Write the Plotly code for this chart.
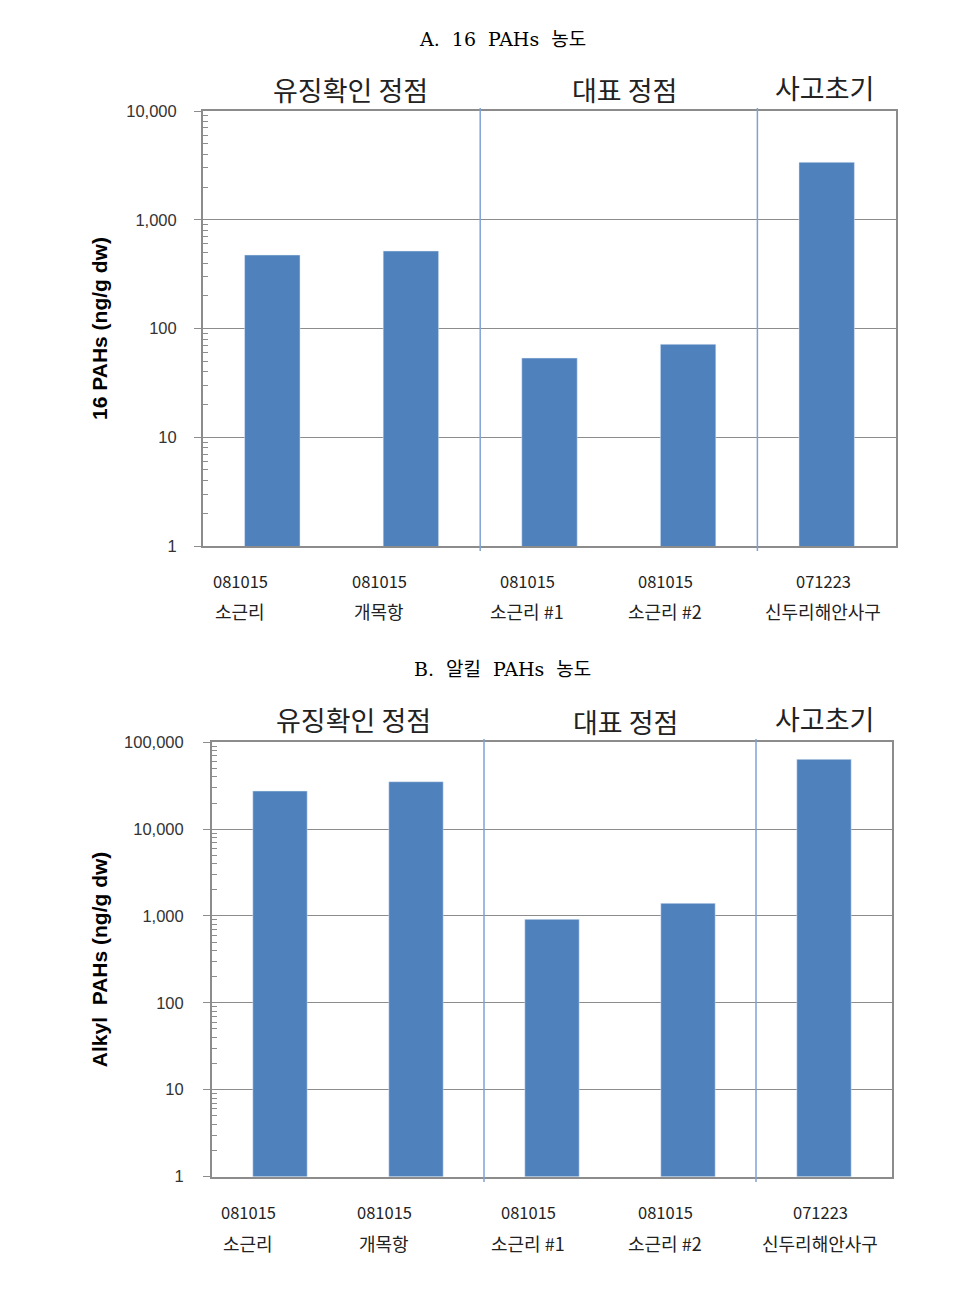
import plotly.graph_objects as go

# ---- data ----
dates = ["081015", "081015", "081015", "081015", "071223"]
sites = ["소근리", "개목항", "소근리 #1", "소근리 #2", "신두리해안사구"]
groups = ["유징확인 정점", "대표 정점", "사고초기"]
pah16 = [474, 516, 53.5, 71.6, 3376]
alkyl = [27470, 35150, 915, 1399, 63660]
titles = ["A.  16  PAHs  농도", "B.  알킬  PAHs  농도"]
ytitles = ["16 PAHs (ng/g dw)", "Alkyl  PAHs (ng/g dw)"]

W, H = 972, 1298
def px(x):
    return x / W
def py(y):
    return 1 - y / H

BAR = "#4f81bd"
GRID = "#8c8c8c"
SEP = "#7fa3d3"
TXT = "#333333"
KFONT = "Noto Sans CJK KR"

fig = go.Figure()
fig.add_trace(go.Bar(x=sites, y=pah16, marker_color=BAR, width=0.4,
                     xaxis="x", yaxis="y", showlegend=False))
fig.add_trace(go.Bar(x=sites, y=alkyl, marker_color=BAR, width=0.4,
                     xaxis="x2", yaxis="y2", showlegend=False))

def minor_vals(ndec):
    v = []
    for d in range(ndec):
        for m in range(2, 10):
            v.append(m * 10 ** d)
    return v

def yaxis_cfg(ndec, dom, title, standoff, anchor, tstand):
    return dict(
        type="log", range=[0, ndec], domain=dom, anchor=anchor, automargin=False,
        tickvals=[10 ** i for i in range(ndec + 1)],
        ticktext=[f"{10 ** i:,}" for i in range(ndec + 1)],
        ticks="outside", ticklen=7, tickcolor=GRID, tickwidth=1,
        minor=dict(tickvals=minor_vals(ndec), ticks="inside", ticklen=5,
                   tickcolor=GRID, tickwidth=1, showgrid=False),
        showgrid=True, gridcolor=GRID, gridwidth=1,
        showline=True, linecolor=GRID, linewidth=2, mirror=True,
        tickfont=dict(family="Liberation Sans, Arial", size=16.5, color=TXT),
        ticklabelstandoff=standoff,
        title=dict(text=title, font=dict(family="Liberation Sans, Arial", size=21,
                                         color="#000", weight="bold"), standoff=tstand),
        zeroline=False,
    )

def xaxis_cfg(dom, anchor):
    return dict(domain=dom, anchor=anchor, range=[-0.5, 4.5], type="category",
                automargin=False,
                showticklabels=False, ticks="", showgrid=False,
                showline=True, linecolor=GRID, linewidth=2, mirror=True)

fig.update_layout(
    width=W, height=H, margin=dict(l=0, r=0, t=0, b=0, pad=0), autosize=False,
    paper_bgcolor="white", plot_bgcolor="white",
    xaxis=xaxis_cfg([px(203), px(896)], "y"),
    yaxis=yaxis_cfg(4, [py(546), py(111)], ytitles[0], 14, "x", 13),
    xaxis2=xaxis_cfg([px(212), px(892)], "y2"),
    yaxis2=yaxis_cfg(5, [py(1176.5), py(742.3)], ytitles[1], 16, "x2", 11),
    bargap=0.6,
)

shapes = []
for xr, y0, y1 in [("x", 108, 551), ("x2", 739, 1182)]:
    for b in (1.5, 3.5):
        shapes.append(dict(type="line", xref=xr, yref="paper", x0=b, x1=b,
                           y0=py(y1), y1=py(y0), line=dict(color=SEP, width=1.5)))
fig.update_layout(shapes=shapes)

ann = []
# titles
for t, y in zip(titles, [39, 669]):
    ann.append(dict(text=t, x=px(502), y=py(y), xref="paper", yref="paper",
                    showarrow=False, xanchor="center", yanchor="middle",
                    font=dict(family="DejaVu Serif, " + KFONT, size=19, color="#000")))
# group headers
for xs, ys in [([350, 624, 824], [89, 90, 87]), ([353, 625, 824], [719, 721, 718])]:
    for g, x, y in zip(groups, xs, ys):
        ann.append(dict(text=g, x=px(x), y=py(y), xref="paper", yref="paper",
                        showarrow=False, xanchor="center", yanchor="middle",
                        font=dict(family=KFONT, size=27, color="#222")))
# category labels
for xs, yd, ys in [([240, 379, 527, 665, 823], 581, 611),
                   ([248, 384, 528, 665, 820], 1212, 1243)]:
    for d, s, x in zip(dates, sites, xs):
        ann.append(dict(text=d, x=px(x), y=py(yd), xref="paper", yref="paper",
                        showarrow=False, xanchor="center", yanchor="middle",
                        font=dict(family=KFONT, size=16.5, color="#222")))
        ann.append(dict(text=s, x=px(x), y=py(ys), xref="paper", yref="paper",
                        showarrow=False, xanchor="center", yanchor="middle",
                        font=dict(family=KFONT, size=18, color="#222")))
fig.update_layout(annotations=ann)

fig.write_html("out.html")
